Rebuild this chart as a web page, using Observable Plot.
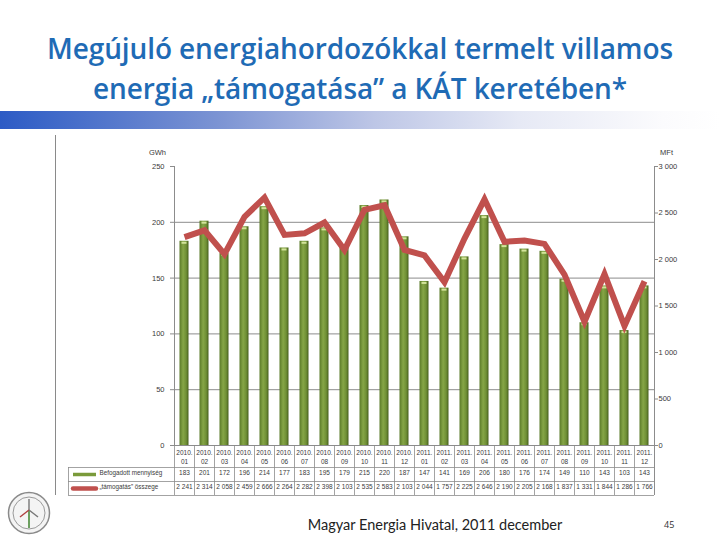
<!DOCTYPE html>
<html><head><meta charset="utf-8">
<script src="https://cdn.jsdelivr.net/npm/d3@7"></script>
<script src="https://cdn.jsdelivr.net/npm/@observablehq/plot@0.6"></script>
<style>
body{margin:0;background:#fff;width:720px;height:540px;overflow:hidden;position:relative;font-family:"Open Sans",sans-serif}
#title{position:absolute;left:0;top:28px;width:720px;text-align:center;color:#1F6BB5;font-size:28px;font-weight:600;line-height:40px;letter-spacing:-0.1px}
#band{position:absolute;left:0;top:111px;width:720px;height:18px;background:linear-gradient(to right,#2C5BC5 0%,#7B93D3 30%,#BDC6E6 52%,#E6E9F5 72%,#FBFBFD 92%,#fff 100%)}
#chart{position:absolute;left:0;top:130px}
#frameline{position:absolute;left:55px;top:135px;width:0;height:360px;border-left:1px solid #8a8a8a}
#footer{position:absolute;left:235px;top:516px;width:400px;text-align:center;font-family:Lato,sans-serif;font-size:14.5px;color:#222}
#page{position:absolute;left:664px;top:518px;font-family:"Open Sans",sans-serif;font-size:9px;color:#333}
#logo{position:absolute;left:7px;top:490px}
</style>
</head><body>
<div id="title">Megújuló energiahordozókkal termelt villamos<br>energia „támogatása” a KÁT keretében*</div>
<div id="band"></div>
<div id="frameline"></div>
<svg width="0" height="0" style="position:absolute">
  <defs>
    <linearGradient id="barGrad" x1="0" x2="1" y1="0" y2="0">
      <stop offset="0%" stop-color="#5A7A28"/>
      <stop offset="40%" stop-color="#86A646"/>
      <stop offset="75%" stop-color="#6E8E34"/>
      <stop offset="100%" stop-color="#465F1C"/>
    </linearGradient>
  </defs>
</svg>
<div id="chart"></div>
<div id="footer">Magyar Energia Hivatal, 2011 december</div>
<div id="page">45</div>
<svg id="logo" width="44" height="46" viewBox="0 0 44 46">
  <circle cx="22" cy="23" r="20.5" fill="#f4f4f4" stroke="#8a8a8a" stroke-width="1.5"/>
  <circle cx="22" cy="23" r="16" fill="none" stroke="#9a9a9a" stroke-width="1"/>
  <line x1="22" y1="20" x2="22" y2="38" stroke="#4a8a3a" stroke-width="1.6"/>
  <line x1="22" y1="20" x2="22" y2="9" stroke="#777" stroke-width="1.4"/>
  <line x1="22" y1="20" x2="13" y2="27" stroke="#b04040" stroke-width="1.4"/>
  <line x1="22" y1="20" x2="31" y2="27" stroke="#777" stroke-width="1.4"/>
</svg>
<script>
const periods = ["2010.\n01","2010.\n02","2010.\n03","2010.\n04","2010.\n05","2010.\n06","2010.\n07","2010.\n08","2010.\n09","2010.\n10","2010.\n11","2010.\n12",
                 "2011.\n01","2011.\n02","2011.\n03","2011.\n04","2011.\n05","2011.\n06","2011.\n07","2011.\n08","2011.\n09","2011.\n10","2011.\n11","2011.\n12"];
const gwh = [183,201,172,196,214,177,183,195,179,215,220,187,147,141,169,206,180,176,174,149,110,143,103,143];
const mft = [2241,2314,2058,2459,2666,2264,2282,2398,2103,2535,2583,2103,2044,1757,2225,2646,2190,2205,2168,1837,1331,1844,1286,1766];
const leftTicks = [0,50,100,150,200,250];
const gridTicks = [50,100,150,200];
const rightTicks = [0,500,1000,1500,2000,2500,3000];
const rightTickLabels = ["0","500","1 000","1 500","2 000","2 500","3 000"];
const seriesNames = ["Befogadott mennyiség","„támogatás” összege"];
const units = ["GWh","MFt"];

const Y_MAX = 250, R_MAX = 3000;
const toLeft = v => v * Y_MAX / R_MAX;
const fmt = d3.formatLocale({decimal:",", thousands:" ", grouping:[3], currency:["",""]}).format(",d");

const data = periods.map((p,i)=>({p, gwh:gwh[i], mft:mft[i]}));

const H = 370, MT = 36, MB = 55;
const k = (H - MT - MB) / Y_MAX;           // px per GWh
const below = px => -px / k;                // offset below the zero line, in y units
const first = () => periods[0], last = () => periods[periods.length-1];
const gridCol = "#8c8c8c", txt = "#3a3a3a";

const chart = Plot.plot({
  width: 720, height: H, marginTop: MT, marginBottom: MB, marginLeft: 68, marginRight: 66,
  x: {type: "band", domain: periods, range: [174, 654], padding: 0, axis: null},
  y: {domain: [0, Y_MAX], axis: null},
  style: {fontFamily: "'Liberation Sans', Arial, sans-serif", fontSize: "7px", color: txt, background: "transparent"},
  marks: [
    // gridlines
    Plot.ruleY(gridTicks, {y: d=>d, x1: first, x2: last, stroke: gridCol, strokeWidth: 1}),
    // bars
    Plot.barY(data, {x: "p", y: "gwh", fill: "url(#barGrad)", insetLeft: 5.5, insetRight: 5.5}),
    Plot.tickY(data, {x: "p", y: "gwh", stroke: "#D2E39A", strokeWidth: 2, insetLeft: 7.5, insetRight: 7.5, dy: 1.5}),
    // line
    Plot.line(data, {x: "p", y: d=>toLeft(d.mft), stroke: "#C0504D", strokeWidth: 6, strokeLinejoin: "miter", strokeMiterlimit: 6, strokeLinecap: "butt"}),
    // axis lines
    Plot.ruleX([0], {x: first, dx: -10, y1: 0, y2: Y_MAX, stroke: gridCol}),
    Plot.ruleX([0], {x: last, dx: 10, y1: below(50), y2: Y_MAX, stroke: gridCol}),
    Plot.ruleY([0], {y: d=>d, x1: first, x2: last, stroke: gridCol}),
    // left ticks + labels
    Plot.tickY(leftTicks, {x: first, y: d=>d, insetLeft: 16, dx: -20, stroke: gridCol}),
    Plot.text(leftTicks, {x: first, y: d=>d, text: d=>String(d), dx: -20, textAnchor: "end", fill: txt, fontSize: 7.5}),
    Plot.text([units[0]], {x: first, y: ()=>Y_MAX, text: d=>d, dx: -27, dy: -14, fill: txt, fontSize: 7.5}),
    // right ticks + labels
    Plot.tickY(rightTicks, {x: last, y: d=>toLeft(d), insetRight: 16, dx: 20, stroke: gridCol}),
    Plot.text(rightTicks, {x: last, y: d=>toLeft(d), text: (d,i)=>rightTickLabels[i], dx: 14, textAnchor: "start", fill: txt, fontSize: 7.5}),
    Plot.text([units[1]], {x: last, y: ()=>Y_MAX, text: d=>d, dx: 22, dy: -14, fill: txt, fontSize: 7.5}),
    // data table: column separators
    Plot.ruleX(periods, {x: d=>d, dx: -10, y1: 0, y2: below(50), stroke: gridCol, strokeWidth: 0.8}),
    Plot.ruleX([0], {x: first, dx: -116, y1: below(22), y2: below(50), stroke: gridCol, strokeWidth: 0.8}),
    Plot.ruleY([22, 36, 50], {y: d=>below(d), stroke: gridCol, strokeWidth: 0.8}),
    // table text
    Plot.text(periods, {x: d=>d, text: d=>d, frameAnchor: "bottom", lineAnchor: "top", dy: 3.5, lineHeight: 1.35, fill: txt, fontSize: 6.5}),
    Plot.text(data, {x: "p", text: d=>String(d.gwh), frameAnchor: "bottom", dy: 29, fill: txt, fontSize: 6.5}),
    Plot.text(data, {x: "p", text: d=>fmt(d.mft), frameAnchor: "bottom", dy: 43, fill: txt, fontSize: 6.5}),
    // legend in table
    Plot.ruleY([0], {y: ()=>below(29), insetLeft: 5, insetRight: 558, stroke: "#7A9A3A", strokeWidth: 3.5}),
    Plot.ruleY([0], {y: ()=>below(43), insetLeft: 5, insetRight: 558, stroke: "#C0504D", strokeWidth: 4.5, strokeLinecap: "round"}),
    Plot.text([seriesNames[0]], {frameAnchor: "bottom-left", text: d=>d, dx: 31, dy: 29, fill: txt, fontSize: 6.3, textAnchor: "start"}),
    Plot.text([seriesNames[1]], {frameAnchor: "bottom-left", text: d=>d, dx: 31, dy: 43, fill: txt, fontSize: 6.3, textAnchor: "start"})
  ]
});
document.getElementById("chart").appendChild(chart);
</script>
</body></html>
